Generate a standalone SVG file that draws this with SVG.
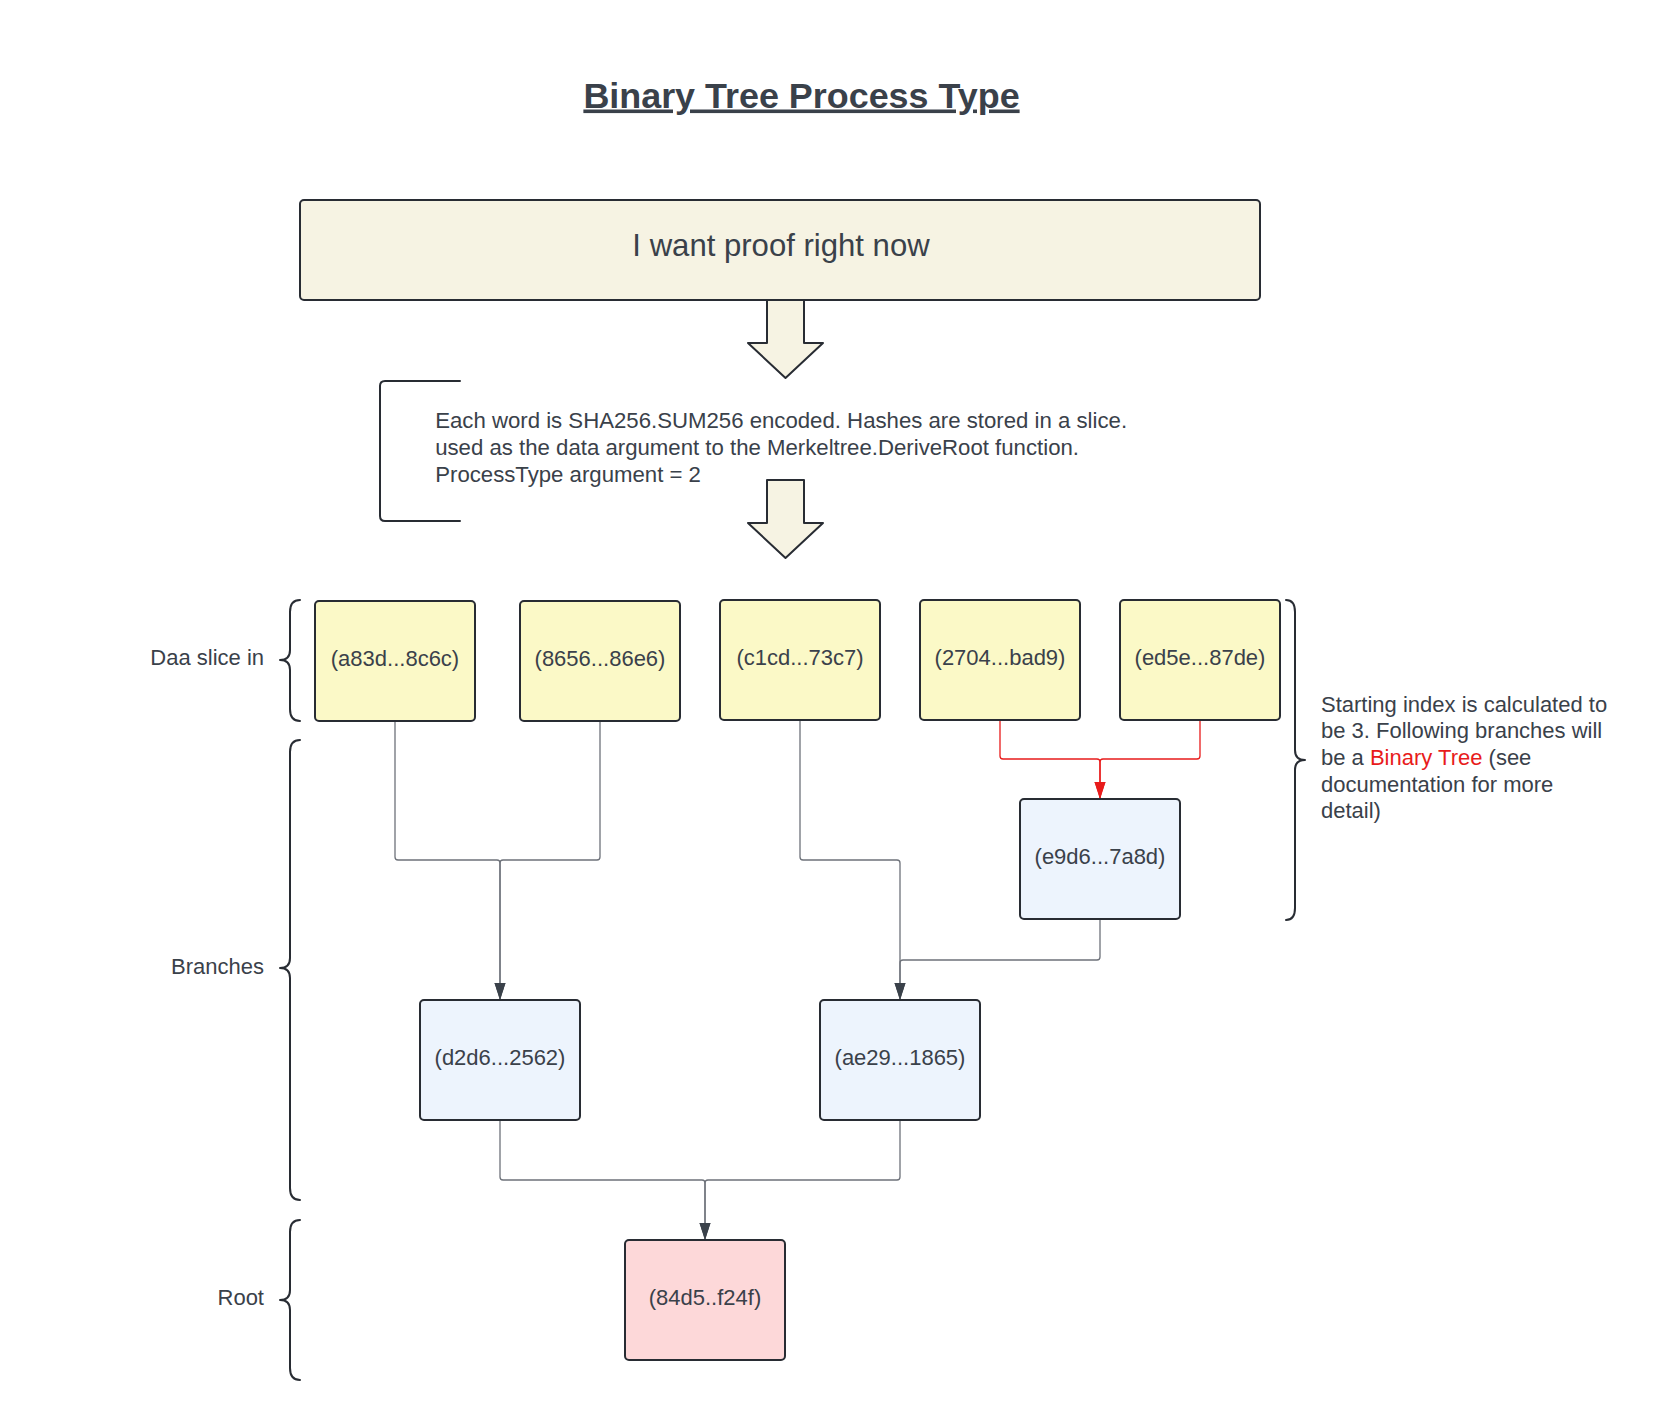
<svg xmlns="http://www.w3.org/2000/svg" width="1665" height="1420" viewBox="0 0 1665 1420">
<defs>
<style>
text{font-family:"Liberation Sans",Arial,sans-serif;fill:#3a414a}
.t{font-size:22px}
.d{font-size:22.2px}
.c{text-anchor:middle}
.e{text-anchor:end}
.box{stroke:#282c33;stroke-width:2}
.y{fill:#fbf9c7}
.b{fill:#edf4fd}
.p{fill:#fdd8d9}
.brace{fill:none;stroke:#282c33;stroke-width:2;stroke-linecap:round;stroke-linejoin:round}
.conn{fill:none;stroke:#6e727a;stroke-width:1.3}
.red{fill:none;stroke:#e81b1b;stroke-width:1.3}
.barrow{fill:#f6f3e3;stroke:#282c33;stroke-width:2;stroke-linejoin:round}
</style>
<marker id="ah" markerUnits="userSpaceOnUse" markerWidth="18" markerHeight="12" refX="17" refY="5.5" orient="auto">
<path d="M0,0 L17,5.5 L0,11 Z" fill="#3a414a"/>
</marker>
<marker id="ahr" markerUnits="userSpaceOnUse" markerWidth="18" markerHeight="12" refX="17" refY="5.5" orient="auto">
<path d="M0,0 L17,5.5 L0,11 Z" fill="#e81b1b"/>
</marker>
</defs>
<rect width="1665" height="1420" fill="#ffffff"/>

<g id="title">
<text x="801.5" y="107.5" class="c" font-size="35.9" font-weight="bold" text-decoration="underline">Binary Tree Process Type</text>
</g>

<g id="request">
<rect class="box" x="300" y="200" width="960" height="100" rx="4" fill="#f6f3e3"/>
<text x="781" y="256" class="c" font-size="31.1">I want proof right now</text>
</g>

<g id="arrow1">
<path class="barrow" d="M767,300 H804 V343 H823 L785.5,378 L748,343 H767 Z"/>
</g>

<g id="description">
<path class="brace" d="M460,381 H385 Q380,381 380,386 V516 Q380,521 385,521 H460"/>
<text class="d" x="435.2" y="428.3">Each word is SHA256.SUM256 encoded. Hashes are stored in a slice.</text>
<text class="d" x="435.2" y="455">used as the data argument to the Merkeltree.DeriveRoot function.</text>
<text class="d" x="435.2" y="481.7">ProcessType argument = 2</text>
</g>

<g id="arrow2">
<path class="barrow" d="M767,480 H804 V523 H823 L785.5,558 L748,523 H767 Z"/>
</g>

<g id="label-data">
<path class="brace" d="M300,600 Q290,600 290,612 V650 Q290,660 280,660 Q290,660 290,670 V709 Q290,721 300,721"/>
<text class="t e" x="264" y="665">Daa slice in</text>
</g>
<g id="label-branches">
<path class="brace" d="M300,740 Q290,740 290,752 V958 Q290,968 280,968 Q290,968 290,978 V1188 Q290,1200 300,1200"/>
<text class="t e" x="264" y="974">Branches</text>
</g>
<g id="label-root">
<path class="brace" d="M300,1220 Q290,1220 290,1232 V1290 Q290,1300 280,1300 Q290,1300 290,1310 V1368 Q290,1380 300,1380"/>
<text class="t e" x="264" y="1305">Root</text>
</g>
<g id="note">
<path class="brace" d="M1286,600 Q1295,600 1295,612 V750 Q1295,760 1305,760 Q1295,760 1295,770 V908 Q1295,920 1286,920"/>
<text class="t" x="1321" y="711.7">Starting index is calculated to</text>
<text class="t" x="1321" y="738.3">be 3. Following branches will</text>
<text class="t" x="1321" y="765">be a <tspan fill="#e81b1b" style="fill:#e81b1b">Binary Tree</tspan> (see</text>
<text class="t" x="1321" y="791.7">documentation for more</text>
<text class="t" x="1321" y="818.3">detail)</text>
</g>

<g id="connectors">
<path class="conn" d="M395,721 V857 Q395,860 398,860 H497 Q500,860 500,863 V1000" marker-end="url(#ah)"/>
<path class="conn" d="M600,721 V857 Q600,860 597,860 H503 Q500,860 500,863 V1000" marker-end="url(#ah)"/>
<path class="conn" d="M800,720 V857 Q800,860 803,860 H897 Q900,860 900,863 V1000" marker-end="url(#ah)"/>
<path class="conn" d="M1100,919 V957 Q1100,960 1097,960 H903 Q900,960 900,963 V1000" marker-end="url(#ah)"/>
<path class="conn" d="M500,1120 V1177 Q500,1180 503,1180 H702 Q705,1180 705,1183 V1240" marker-end="url(#ah)"/>
<path class="conn" d="M900,1120 V1177 Q900,1180 897,1180 H708 Q705,1180 705,1183 V1240" marker-end="url(#ah)"/>
<path class="red" d="M1000,720 V756 Q1000,759 1003,759 H1097 Q1100,759 1100,762 V799" marker-end="url(#ahr)"/>
<path class="red" d="M1200,720 V756 Q1200,759 1197,759 H1103 Q1100,759 1100,762 V799" marker-end="url(#ahr)"/>
</g>

<g id="n-a83d"><rect class="box y" x="315" y="601" width="160" height="120" rx="4"/><text class="t c" x="395" y="666">(a83d...8c6c)</text></g>
<g id="n-8656"><rect class="box y" x="520" y="601" width="160" height="120" rx="4"/><text class="t c" x="600" y="666">(8656...86e6)</text></g>
<g id="n-c1cd"><rect class="box y" x="720" y="600" width="160" height="120" rx="4"/><text class="t c" x="800" y="665">(c1cd...73c7)</text></g>
<g id="n-2704"><rect class="box y" x="920" y="600" width="160" height="120" rx="4"/><text class="t c" x="1000" y="665">(2704...bad9)</text></g>
<g id="n-ed5e"><rect class="box y" x="1120" y="600" width="160" height="120" rx="4"/><text class="t c" x="1200" y="665">(ed5e...87de)</text></g>
<g id="n-e9d6"><rect class="box b" x="1020" y="799" width="160" height="120" rx="4"/><text class="t c" x="1100" y="864">(e9d6...7a8d)</text></g>
<g id="n-d2d6"><rect class="box b" x="420" y="1000" width="160" height="120" rx="4"/><text class="t c" x="500" y="1065">(d2d6...2562)</text></g>
<g id="n-ae29"><rect class="box b" x="820" y="1000" width="160" height="120" rx="4"/><text class="t c" x="900" y="1065">(ae29...1865)</text></g>
<g id="n-84d5"><rect class="box p" x="625" y="1240" width="160" height="120" rx="4"/><text class="t c" x="705" y="1305">(84d5..f24f)</text></g>
</svg>
